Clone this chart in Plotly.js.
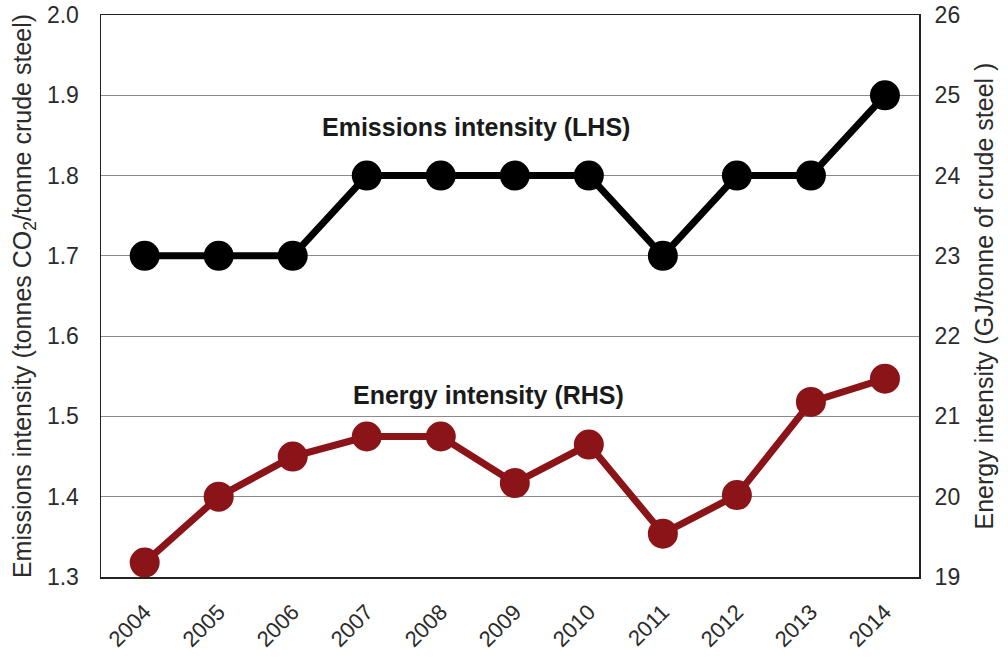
<!DOCTYPE html>
<html>
<head>
<meta charset="utf-8">
<script src="https://cdn.plot.ly/plotly-3.0.1.min.js"></script>
<style>html,body{margin:0;padding:0;background:#fff;}#chart{width:1008px;height:657px;}</style>
</head>
<body>
<div id="chart"></div>
<script>
const years = ["2004","2005","2006","2007","2008","2009","2010","2011","2012","2013","2014"];
const emissionsIntensity = [1.7, 1.7, 1.7, 1.8, 1.8, 1.8, 1.8, 1.7, 1.8, 1.8, 1.9];
const energyIntensity = [19.18, 20.0, 20.5, 20.75, 20.75, 20.17, 20.65, 19.54, 20.02, 21.18, 21.47];
const leftTicks = [1.3, 1.4, 1.5, 1.6, 1.7, 1.8, 1.9, 2.0];
const leftTickText = ["1.3", "1.4", "1.5", "1.6", "1.7", "1.8", "1.9", "2.0"];
const rightTicks = [19, 20, 21, 22, 23, 24, 25, 26];

const FONT = "Liberation Sans, Arial, Helvetica, sans-serif";
const TXT = "#2b2b2b";

const traces = [
  {
    x: years, y: emissionsIntensity, type: "scatter", mode: "lines+markers",
    name: "Emissions intensity (LHS)", yaxis: "y",
    line: {color: "#000000", width: 7},
    marker: {color: "#000000", size: 30},
    cliponaxis: false, showlegend: false
  },
  {
    x: years, y: energyIntensity, type: "scatter", mode: "lines+markers",
    name: "Energy intensity (RHS)", yaxis: "y2",
    line: {color: "#8b1418", width: 7},
    marker: {color: "#8b1418", size: 30},
    cliponaxis: false, showlegend: false
  }
];

const layout = {
  width: 1008, height: 657,
  margin: {l: 101, r: 89, t: 15, b: 80},
  paper_bgcolor: "#ffffff", plot_bgcolor: "#ffffff",
  font: {family: FONT, color: TXT},
  showlegend: false,
  xaxis: {
    type: "category", range: [-0.59, 10.46],
    tickangle: -45, tickfont: {size: 22, color: TXT, family: FONT},
    showgrid: false, zeroline: false,
    showline: true, linecolor: "#222", linewidth: 1.5, mirror: true,
    ticks: "outside", ticklen: 12, tickcolor: "rgba(0,0,0,0)"
  },
  yaxis: {
    range: [1.3, 2.0], tickvals: leftTicks, ticktext: leftTickText,
    tickfont: {size: 23, color: TXT, family: FONT},
    showgrid: true, gridcolor: "#8a8a8a", gridwidth: 1.2,
    zeroline: false, showline: true, linecolor: "#222", linewidth: 1.5, mirror: true,
    ticks: "outside", ticklen: 16, tickcolor: "rgba(0,0,0,0)",
    title: {text: "Emissions intensity (tonnes CO<sub>2</sub>/tonne crude steel)", font: {size: 25, color: TXT, family: FONT}, standoff: 8}
  },
  yaxis2: {
    range: [19, 26], tickvals: rightTicks, overlaying: "y", side: "right",
    tickfont: {size: 23, color: TXT, family: FONT},
    showgrid: false, zeroline: false, showline: false,
    ticks: "outside", ticklen: 10, tickcolor: "rgba(0,0,0,0)",
    title: {text: "Energy intensity (GJ/tonne of crude steel )", font: {size: 25, color: TXT, family: FONT}, standoff: 16}
  },
  annotations: [
    {x: 4.48, y: 1.861, xref: "x", yref: "y", text: "<b>Emissions intensity (LHS)</b>", showarrow: false,
     font: {size: 25, color: "#1a1a1a", family: FONT}, bgcolor: "rgba(255,255,255,0.9)"},
    {x: 4.65, y: 1.527, xref: "x", yref: "y", text: "<b>Energy intensity (RHS)</b>", showarrow: false,
     font: {size: 25, color: "#1a1a1a", family: FONT}, bgcolor: "rgba(255,255,255,0.9)"}
  ]
};

Plotly.newPlot("chart", traces, layout, {displayModeBar: false, staticPlot: true});
</script>
</body>
</html>
